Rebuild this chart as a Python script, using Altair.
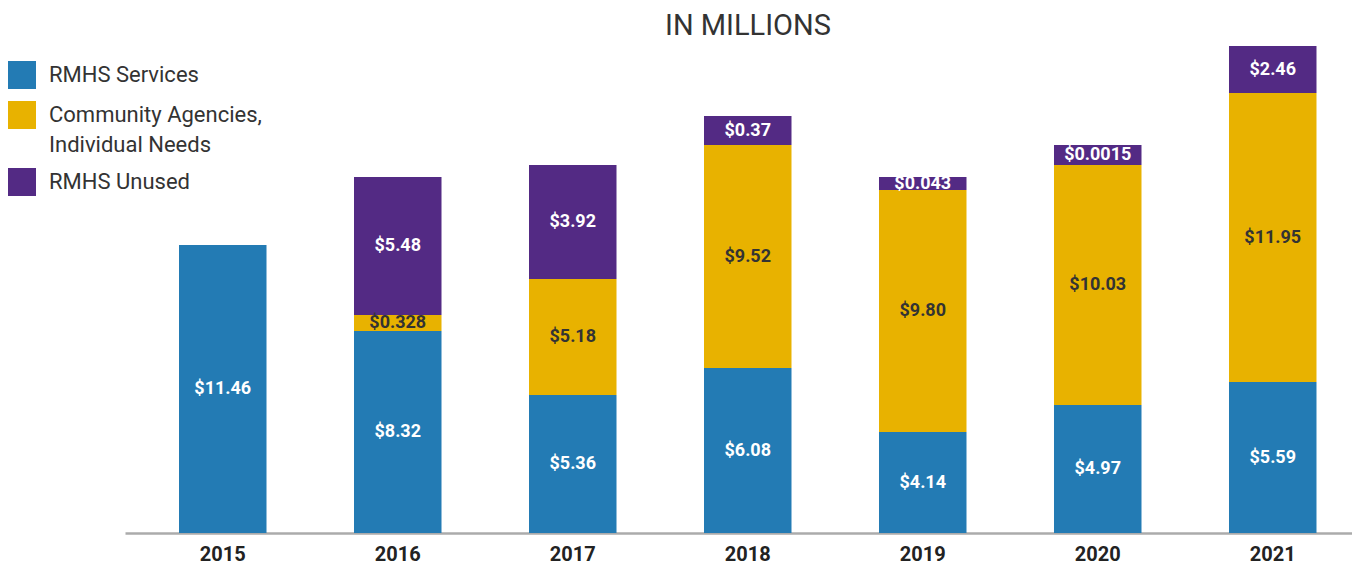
import altair as alt
import pandas as pd

title_text = ["IN MILLIONS"]
years = ["2015", "2016", "2017", "2018", "2019", "2020", "2021"]
series = ["RMHS Services", "Community Agencies, Individual Needs", "RMHS Unused"]
colors = ["#237bb4", "#e8b200", "#532a84"]

# segment heights as drawn in the picture (millions-equivalent)
services_h = [11.52, 8.08, 5.52, 6.60, 4.04, 5.12, 6.04]
community_h = [0, 0.64, 4.64, 8.92, 9.68, 9.60, 11.56]
unused_h = [0, 5.52, 4.56, 1.16, 0.52, 0.80, 1.88]

# printed labels
services_lbl = ["$11.46", "$8.32", "$5.36", "$6.08", "$4.14", "$4.97", "$5.59"]
community_lbl = ["", "$0.328", "$5.18", "$9.52", "$9.80", "$10.03", "$11.95"]
unused_lbl = ["", "$5.48", "$3.92", "$0.37", "$0.043", "$0.0015", "$2.46"]

rows = []
for si, (vals, lbls) in enumerate(zip([services_h, community_h, unused_h],
                                      [services_lbl, community_lbl, unused_lbl])):
    for yr, v, l in zip(years, vals, lbls):
        if v > 0:
            rows.append({"year": yr, "series": series[si], "idx": si, "h": v, "label": l})
df = pd.DataFrame(rows)

base = alt.Chart(df).transform_stack(
    stack="h", groupby=["year"], as_=["y0", "y1"],
    sort=[alt.SortField("idx", order="ascending")]
).transform_calculate(mid="(datum.y0 + datum.y1) / 2")

x_enc = alt.X(
    "year:N", title=None, sort=years,
    scale=alt.Scale(range=[0, 1245.5], paddingInner=0.5, paddingOuter=0.3086),
    axis=alt.Axis(labelAngle=0, labelFont="Roboto", labelFontWeight="bold",
                  labelFontSize=20, labelColor="#222222", ticks=False,
                  domainColor="#ababab", domainWidth=2.5, labelPadding=11, grid=False),
)
y_scale = alt.Scale(domain=[0, 20], nice=False, zero=True)

bars = base.mark_bar().encode(
    x=x_enc,
    y=alt.Y("y0:Q", scale=y_scale, axis=None),
    y2="y1:Q",
    color=alt.Color(
        "series:N",
        scale=alt.Scale(domain=series, range=colors),
        legend=alt.Legend(
            title=None, orient="none", legendX=-117, legendY=28,
            symbolType="square", symbolSize=784, symbolStrokeWidth=0,
            labelFont="Roboto", labelFontSize=22, labelColor="#333333",
            labelOffset=13, rowPadding=12, labelLimit=400, padding=0,
            labelExpr="datum.label == 'Community Agencies, Individual Needs' ? ['Community Agencies,', 'Individual Needs'] : datum.label",
        ),
    ),
)

text = base.mark_text(font="Roboto", fontWeight="bold", fontSize=18, baseline="middle").encode(
    x=alt.X("year:N", sort=years),
    y=alt.Y("mid:Q", scale=y_scale),
    text="label:N",
    color=alt.condition("datum.idx == 1", alt.value("#333333"), alt.value("#ffffff")),
)

title = alt.Chart(pd.DataFrame({"t": title_text})).mark_text(
    font="Roboto", fontSize=29, color="#333333", align="center", baseline="alphabetic"
).encode(text="t:N", x=alt.value(623), y=alt.value(2))

chart = alt.layer(bars, text, title).properties(
    width=1227, height=500,
    padding={"left": 117, "top": 25, "right": 0, "bottom": 32},
    autosize=alt.AutoSizeParams(type="none"),
).configure(
    view={"strokeWidth": 0},
    style={"guide-label": {"lineHeight": 30}},
)

chart.save("out.html", embed_options={"renderer": "svg", "actions": False})
